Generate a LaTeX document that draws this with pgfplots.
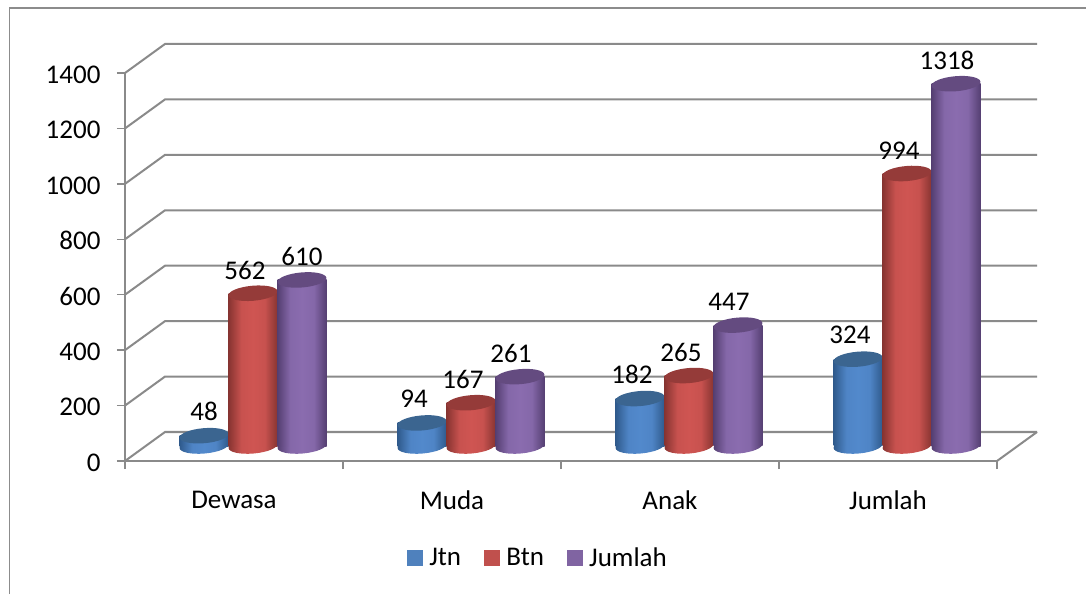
\documentclass[border=0pt]{standalone}
\usepackage{pgfplots}
\usepackage{pgfplotstable}
\usepackage{fontspec}
\setmainfont{Carlito}
\pgfplotsset{compat=1.18}
\definecolor{gridc}{HTML}{8A8A8A}
\definecolor{frame}{HTML}{8C8C8C}
\definecolor{jtn}{HTML}{4F81BD}
\definecolor{btn}{HTML}{C0504D}
\definecolor{jml}{HTML}{8064A2}
\definecolor{jtnM}{HTML}{5289CC}
\definecolor{btnM}{HTML}{CF5552}
\definecolor{jmlM}{HTML}{8A6CAF}
\definecolor{jtnD}{HTML}{2F5A8C}
\definecolor{btnD}{HTML}{873431}
\definecolor{jmlD}{HTML}{553F72}
\definecolor{jtnT}{HTML}{3B6590}
\definecolor{btnT}{HTML}{953B39}
\definecolor{jmlT}{HTML}{644B80}
\newcommand\cylell{\pgfpathellipse{\pgfpointorigin}{\pgfqpoint{24.4pt}{2.1pt}}{\pgfqpoint{-0.65pt}{7.5pt}}}
\newcommand\defcyl[1]{%
  \pgfdeclarehorizontalshading{#1S}{100bp}{color(0bp)=(#1D); color(25bp)=(#1D); color(38bp)=(#1M!90!#1D); color(50bp)=(#1M); color(62bp)=(#1M!90!#1D); color(75bp)=(#1D); color(100bp)=(#1D)}%
  \pgfdeclareplotmark{cyl#1}{%
    \pgfmathsetlengthmacro\hh{\hval pt-3pt}%
    \pgfscope\pgftransformshift{\pgfqpoint{0pt}{-\hh}}\cylell\pgfshadepath{#1S}{0}\pgfusepath{discard}\endpgfscope
    \pgfpathrectanglecorners{\pgfqpoint{-24.5pt}{-\hh}}{\pgfqpoint{24.5pt}{0pt}}\pgfshadepath{#1S}{0}\pgfusepath{discard}%
    \pgfsetfillcolor{#1T}\cylell\pgfusepath{fill}%
  }%
}
\defcyl{jtn}\defcyl{btn}\defcyl{jml}
\pgfplotstableread{
x  jtn btn jml
0  48  562 610
1  94  167 261
2  182 265 447
3  324 994 1318
}\chartdata
\pgfplotsset{cylinder plot/.style={only marks,forget plot,scatter,scatter src=y,
  visualization depends on={y*388/1400 \as \hval},
  yshift=12pt,nodes near coords}}
\begin{document}
\begin{tikzpicture}[x=1pt,y=1pt]
\useasboundingbox (0,0) rectangle (1086,594);
\draw[frame,line width=1.2pt] (9.5,0) -- (9.5,586) -- (1086,586);
\begin{axis}[
  at={(125pt,133pt)}, anchor=south west,
  scale only axis, width=872pt, height=388pt,
  xmin=-0.5, xmax=3.5, ymin=0, ymax=1400,
  clip=false,
  axis x line*=bottom, axis y line*=left,
  axis line style={gridc,line width=2pt,-},
  xtick={0,1,2,3},
  xticklabels={Dewasa,Muda,Anak,Jumlah},
  extra x ticks={-0.5,0.5,1.5,2.5,3.5},
  extra x tick labels={},
  extra x tick style={xtick style={draw=gridc,line width=1.5pt}},
  xtick style={draw=none},
  ytick={0,200,...,1400},
  ytick style={draw=gridc,line width=1.5pt},
  major tick length=8pt,
  tick align=outside,
  tick label style={font=\fontsize{27}{27}\selectfont},
  x tick label style={yshift=-18.5pt},
  y tick label style={xshift=-13pt,yshift=-1.5pt},
  /pgf/number format/assume math mode=true,
  /pgf/number format/1000 sep={},
  legend style={at={(0.4736,-0.25)},anchor=center,draw=none,fill=none,
    legend columns=3,font=\fontsize{27}{27}\selectfont,
    /tikz/every even column/.style={column sep=21pt}},
  legend image code/.code={\fill[#1] (0pt,-7.5pt) rectangle (15pt,7.5pt);\path[draw=none,fill=none] (0pt,0pt) -- (20pt,0pt);},
  nodes near coords style={font=\fontsize{27}{27}\selectfont,anchor=center,text=black},
]
\foreach \v in {0,200,...,1400}{
  \edef\temp{\noexpand\draw[gridc,line width=2pt] (axis cs:-0.5,\v) -- ++(40pt,29pt) -- ++(872pt,0pt);}
  \temp
}
\draw[gridc,line width=2pt] (axis cs:3.5,0) -- ++(40pt,29pt);

\addlegendimage{jtn}\addlegendentry{Jtn}
\addlegendimage{btn}\addlegendentry{Btn}
\addlegendimage{jml}\addlegendentry{Jumlah}

\addplot[cylinder plot,mark=cyljtn,xshift=-30pt,
  every node near coord/.append style={yshift=24pt},
  coordinate style/.condition={x>0.5}{xshift=-8pt}] table[x=x,y=jtn]{\chartdata};
\addplot[cylinder plot,mark=cylbtn,xshift=19pt,
  every node near coord/.append style={yshift=23pt,xshift=-8pt}] table[x=x,y=btn]{\chartdata};
\addplot[cylinder plot,mark=cyljml,xshift=68pt,
  every node near coord/.append style={yshift=23pt},
  coordinate style/.condition={x>0.5}{xshift=-9pt}] table[x=x,y=jml]{\chartdata};
\end{axis}
\end{tikzpicture}
\end{document}
